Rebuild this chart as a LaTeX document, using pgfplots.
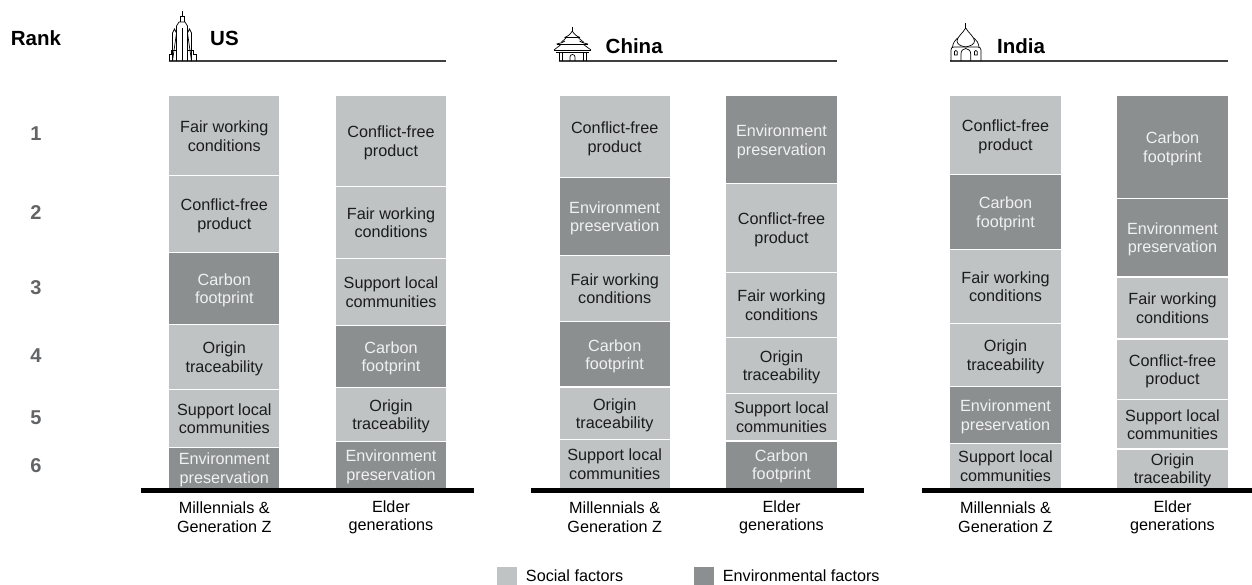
\documentclass[border=0pt]{standalone}
\usepackage{fontspec}
\setmainfont{Liberation Sans}
\usepackage{pgfplots}
\usepackage{pgfplotstable}
\pgfplotsset{compat=1.18}

\definecolor{soc}{HTML}{BFC3C4}
\definecolor{envc}{HTML}{8C8F90}
\definecolor{ranktxt}{HTML}{636466}
\definecolor{segtxt}{HTML}{1C1C1C}
\definecolor{segwhite}{HTML}{F0F1F1}
\newcommand{\lblfont}{\fontsize{16.2}{18.5}\selectfont}

% segment heights in px, s = social, e = environmental, number = rank
\pgfplotstableread{
x      s6   e6   s5   e5   s4   e4   s3   e3   s2   e2   s1   e1
224.3  0    41   58   0    65   0    0    71.6 77   0    80.3 0
391.0  0    46.6 54   0    0    62.4 67   0    72   0    90.9 0
614.7  48.6 0    52.7 0    0    65.3 66   0    0    78   82.3 0
781.5  0    47.3 47.7 0    56   0    64.6 0    89   0    0    88.3
1005.5 44.6 0    0    57.4 62.6 0    74.4 0    0    75   78.9 0
1172.5 39.3 0    49.3 0    60.7 0    62   0    0    78.7 0    102.9
}\heights

\newcommand{\soclbl}[4]{\node[text=segtxt,font=\lblfont,align=center] at (#1,#2+2.3) {\strut #3\\\strut #4};}
\newcommand{\envlbl}[4]{\node[text=segwhite,font=\lblfont,align=center] at (#1,#2+2.3) {\strut #3\\\strut #4};}

\begin{document}
\begin{tikzpicture}
\useasboundingbox (0,0) rectangle (1252pt,585pt);
\begin{axis}[
    at={(0,0)}, anchor=south west,
    scale only axis, width=1252pt, height=585pt,
    xmin=0, xmax=1252, ymin=-96.7, ymax=488.3,
    axis x line=middle, axis y line=none,
    x axis line style={draw=none,-},
    ybar stacked, bar width=111.5,
    clip=false,
    xtick={224.3,391,614.7,781.5,1005.5,1172.5},
    xticklabels={{Millennials \&\\Generation Z},{Elder\\generations},{Millennials \&\\Generation Z},{Elder\\generations},{Millennials \&\\Generation Z},{Elder\\generations}},
    major tick length=0pt,
    xticklabel style={align=center,anchor=center,yshift=-29pt,font=\lblfont,text=black},
    legend columns=2,
    legend cell align=left,
    legend image code/.code={\fill[#1,draw=none] (0pt,-9pt) rectangle (20pt,9pt);},
    legend style={draw=none,fill=none,inner sep=0pt,font=\lblfont,
        at={(axis description cs:0.397,0.0154)},anchor=west,
        nodes={inner sep=0pt},
        /tikz/column 1/.style={column sep=8.7pt},
        /tikz/column 2/.style={column sep=71pt},
        /tikz/column 3/.style={column sep=8.7pt}},
]
\pgfplotsinvokeforeach{6,5,4,3,2,1}{
  \addplot[fill=soc,draw=white,line width=1.2pt,forget plot] table[x=x,y=s#1] {\heights};
  \addplot[fill=envc,draw=white,line width=1.2pt,forget plot] table[x=x,y=e#1] {\heights};
}
\addlegendimage{fill=soc}
\addlegendentry{Social factors}
\addlegendimage{fill=envc}
\addlegendentry{Environmental factors}
\end{axis}

% everything below in px of the reference, y downwards
\begin{scope}[shift={(0,585pt)},x=1pt,y=-1pt]
\draw[black,line width=5pt] (141,490.5)--(474,490.5);
\draw[black,line width=5pt] (531,490.5)--(864,490.5);
\draw[black,line width=5pt] (922,490.5)--(1252,490.5);
\foreach \a/\b in {169/446,559/837,950/1228}
  \draw[black!75,line width=1.1pt] (\a,61)--(\b,61);

\node[font=\fontsize{20.5}{24}\selectfont\bfseries] at (36,38.5) {Rank};
\node[font=\fontsize{20.5}{24}\selectfont\bfseries,anchor=west,inner sep=0pt] at (210,38.5) {US};
\node[font=\fontsize{20.5}{24}\selectfont\bfseries,anchor=west,inner sep=0pt] at (605.5,46) {China};
\node[font=\fontsize{20.5}{24}\selectfont\bfseries,anchor=west,inner sep=0pt] at (997,46) {India};
\foreach \y/\r in {134/1,213/2,287.7/3,356/4,417.7/5,466/6}
  \node[font=\fontsize{20}{24}\selectfont\bfseries,text=ranktxt] at (36,\y) {\r};

\soclbl{224.3}{135.9}{Fair working}{conditions}
\soclbl{224.3}{214.2}{Conflict-free}{product}
\envlbl{224.3}{288.5}{Carbon}{footprint}
\soclbl{224.3}{356.8}{Origin}{traceability}
\soclbl{224.3}{418.3}{Support local}{communities}
\envlbl{224.3}{467.8}{Environment}{preservation}

\soclbl{391}{141.2}{Conflict-free}{product}
\soclbl{391}{222.3}{Fair working}{conditions}
\soclbl{391}{291.8}{Support local}{communities}
\envlbl{391}{356.5}{Carbon}{footprint}
\soclbl{391}{414.7}{Origin}{traceability}
\envlbl{391}{465}{Environment}{preservation}

\soclbl{614.7}{136.9}{Conflict-free}{product}
\envlbl{614.7}{216.7}{Environment}{preservation}
\soclbl{614.7}{288.7}{Fair working}{conditions}
\envlbl{614.7}{354.4}{Carbon}{footprint}
\soclbl{614.7}{413.4}{Origin}{traceability}
\soclbl{614.7}{464}{Support local}{communities}

\envlbl{781.5}{139.9}{Environment}{preservation}
\soclbl{781.5}{228.2}{Conflict-free}{product}
\soclbl{781.5}{305}{Fair working}{conditions}
\soclbl{781.5}{365.3}{Origin}{traceability}
\soclbl{781.5}{417.2}{Support local}{communities}
\envlbl{781.5}{464.7}{Carbon}{footprint}

\soclbl{1005.5}{135.2}{Conflict-free}{product}
\envlbl{1005.5}{211.8}{Carbon}{footprint}
\soclbl{1005.5}{286.5}{Fair working}{conditions}
\soclbl{1005.5}{355}{Origin}{traceability}
\envlbl{1005.5}{415}{Environment}{preservation}
\soclbl{1005.5}{466}{Support local}{communities}

\envlbl{1172.5}{147.2}{Carbon}{footprint}
\envlbl{1172.5}{237.7}{Environment}{preservation}
\soclbl{1172.5}{308}{Fair working}{conditions}
\soclbl{1172.5}{369.4}{Conflict-free}{product}
\soclbl{1172.5}{424.4}{Support local}{communities}
\soclbl{1172.5}{468.7}{Origin}{traceability}

% skyscraper
\begin{scope}[black,line width=0.7pt,line join=miter]
\draw (182,11)--(182,16);
\draw (180,22)--(180,16.5)--(184,16.5)--(184,22);
\draw (176.5,61)--(176.5,26)--(179,22)--(185,22)--(187.5,26)--(187.5,61);
\draw (182,28)--(182,61);
\draw (172.5,61)--(172.5,33)--(174.5,29)--(176.5,33)--cycle;
\draw (191.5,61)--(191.5,33)--(189.5,29)--(187.5,33)--cycle;
\draw (169,61)--(169,54.5)--(171,54.5)--(171,50)--(176.5,50);
\draw (187.5,50)--(193,50)--(193,54.5)--(196,54.5)--(196,61);
\end{scope}
% temple
\begin{scope}[black,line width=0.7pt]
\draw (572.3,27)--(572.3,31);
\draw (564.5,37.5) .. controls (568,36.5) and (571,33.5) .. (572.3,31) .. controls (573.6,33.5) and (576.5,36.5) .. (580,37.5);
\draw (564.5,37.5)--(580,37.5);
\draw (566,38)--(561,42.5);\draw (578.5,38)--(584,42.5);
\draw (556.5,44) .. controls (560,43.5) and (563,42.5) .. (565,41);
\draw (588,44) .. controls (584.5,43.5) and (581.5,42.5) .. (579.5,41);
\draw (556.5,44)--(588,44);
\draw (561,44.5)--(554,50);\draw (583.5,44.5)--(591,50);
\draw (554,50)--(591,50);
\draw (556,52)--(589,52);
\draw (559.5,52)--(559.5,61);\draw (562,52)--(562,61);
\draw (586,52)--(586,61);\draw (583,52)--(583,61);
\draw (570,61)--(570,57) arc (180:360:2.5)--(575,61);
\end{scope}
% dome
\begin{scope}[black,line width=0.7pt]
\draw (965.7,23)--(965.7,28);
\draw (965.7,28) .. controls (963,33) and (957,37) .. (957,41) .. controls (957,44) and (960,46) .. (965.7,47) .. controls (971,46) and (974.5,44) .. (974.5,41) .. controls (974.5,37) and (968.5,33) .. (965.7,28);
\draw (957.5,38) .. controls (955,40) and (953,43) .. (952.5,47);
\draw (974,38) .. controls (976.5,40) and (978.5,43) .. (979,47);
\draw (951,61)--(951,50) .. controls (951,48) and (952,47) .. (954,47)--(977.5,47) .. controls (979.5,47) and (981,48) .. (981,50)--(981,61);
\draw (961,61)--(961,54) .. controls (961,50.5) and (963,49) .. (965.8,48.5) .. controls (968.5,49) and (970.7,50.5) .. (970.7,54)--(970.7,61);
\draw (954.5,55)--(954.5,51.5)--(955.8,50.5)--(957.2,51.5)--(957.2,55)--cycle;
\draw (974.5,55)--(974.5,51.5)--(975.8,50.5)--(977.2,51.5)--(977.2,55)--cycle;
\end{scope}
\end{scope}
\end{tikzpicture}
\end{document}
